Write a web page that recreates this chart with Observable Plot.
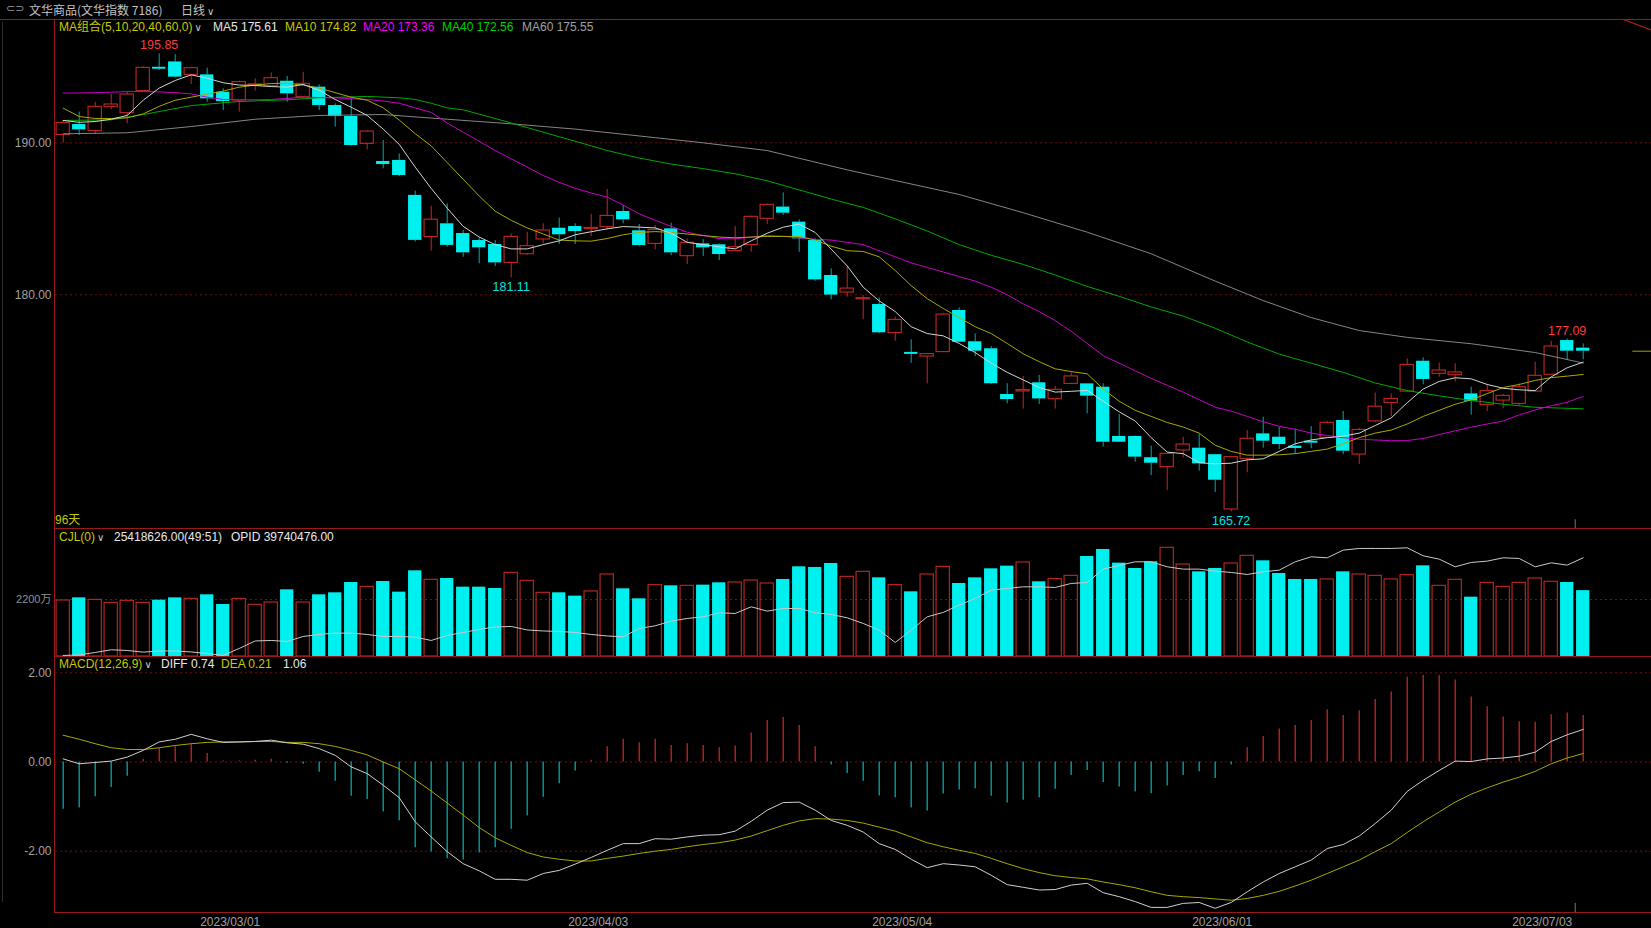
<!DOCTYPE html>
<html>
<head>
<meta charset="utf-8">
<script src="https://cdn.jsdelivr.net/npm/d3@7"></script>
<script src="https://cdn.jsdelivr.net/npm/@observablehq/plot@0.6"></script>
<style>
html,body{margin:0;padding:0;background:#000;overflow:hidden;}
#root{position:relative;width:1651px;height:928px;background:#000;font-family:"Liberation Sans","Noto Sans CJK SC",sans-serif;font-size:12px;color:#ddd;overflow:hidden;}
.a{position:absolute;white-space:nowrap;line-height:14px;}
.ln{position:absolute;background:#9a1a1a;z-index:5;}
.p{position:absolute;left:0;}
svg{display:block;}
</style>
</head>
<body>
<div id="root"></div>
<script>
// ---------------- DATA ----------------
const tickIdx    = [10, 33, 52, 72, 92];
const tickLabels = ["2023/03/01", "2023/04/03", "2023/05/04", "2023/06/01", "2023/07/03"];

const open = [190.52,191.20,190.77,192.34,191.95,193.40,194.97,195.32,194.47,194.47,
193.33,192.78,193.78,193.72,194.05,193.00,193.66,192.45,191.73,189.93,
188.77,188.84,186.54,183.80,184.67,184.03,183.57,183.31,182.10,182.67,
183.64,184.38,184.49,184.32,184.45,185.48,184.21,183.35,184.34,182.54,
183.35,183.29,182.87,183.27,185.00,185.77,184.78,183.57,181.27,180.15,
179.70,179.36,177.48,176.21,175.94,176.23,178.97,176.91,176.45,173.44,
173.64,174.21,173.13,174.14,174.14,173.92,170.68,170.68,169.28,168.66,
169.76,169.91,169.48,165.88,169.21,170.85,170.63,170.04,170.37,170.59,
171.73,169.49,171.67,172.89,173.63,175.63,174.80,174.71,173.48,172.76,
173.04,172.82,173.63,174.74,176.99,176.49];
const high = [191.47,192.02,192.67,193.18,193.33,195.00,195.85,195.80,194.97,194.91,
193.55,194.06,194.21,194.60,194.36,194.64,193.81,192.56,192.96,190.81,
190.15,189.27,186.82,185.83,185.98,184.23,183.75,183.57,184.01,184.12,
184.67,185.04,184.67,185.28,186.93,185.87,184.63,184.56,184.71,183.68,
183.62,183.35,184.49,185.17,185.98,186.71,184.93,183.68,181.71,181.86,
179.96,179.80,178.53,177.04,176.12,178.75,179.14,177.43,176.60,174.15,
174.63,174.69,173.97,174.87,174.16,174.14,172.13,170.70,170.04,169.56,
170.63,170.81,169.50,169.36,171.07,171.95,171.29,171.18,171.33,171.68,
172.32,171.22,173.54,173.48,175.78,175.85,175.52,175.46,173.92,174.10,
173.44,174.14,175.57,176.95,177.09,176.77];
const low = [189.98,190.48,190.55,192.17,191.25,193.35,194.76,194.27,193.84,192.67,
192.12,192.01,193.40,193.70,192.67,192.89,192.12,191.03,189.78,189.54,
188.29,187.78,183.47,182.87,183.14,182.47,182.04,181.86,181.11,182.58,
183.35,183.31,183.31,183.84,184.27,184.67,183.20,182.96,182.58,181.99,
182.52,182.26,182.84,182.80,184.63,185.22,182.80,180.89,179.67,179.84,
178.36,177.44,176.95,175.50,174.14,176.20,176.85,175.94,174.10,172.83,
172.48,172.78,172.48,174.10,172.17,169.98,170.28,168.99,168.11,167.13,
169.28,168.40,166.99,165.72,168.29,169.91,169.82,169.49,169.87,170.57,
169.49,168.83,171.58,171.99,173.59,174.08,174.58,174.25,172.08,172.32,
172.50,172.72,173.60,174.70,175.68,175.72];
const close = [191.31,190.85,192.37,192.52,193.18,194.93,194.84,194.32,194.91,192.89,
192.71,193.99,193.84,194.25,193.22,193.88,192.45,191.73,189.82,190.74,
188.57,187.85,183.58,184.94,183.25,182.76,183.09,182.10,183.81,183.20,
184.23,183.95,184.16,184.40,185.19,184.93,183.24,184.27,182.76,183.42,
183.09,182.65,183.13,185.13,185.92,185.37,183.68,180.98,179.98,180.41,
179.78,177.50,178.35,176.08,176.10,178.70,176.88,176.29,174.15,173.11,
173.73,173.15,173.75,174.63,173.33,170.30,170.30,169.32,168.92,169.54,
170.15,168.88,167.80,169.32,170.53,170.37,170.15,169.89,170.24,171.58,
169.71,171.11,172.64,173.15,175.39,174.43,175.02,174.89,173.00,173.66,
173.35,173.92,174.67,176.60,176.29,176.29];

const ma5 = [191.47,191.35,191.4,191.55,191.8,192.8,193.6,194.1,194.47,194.25,
193.95,193.8,193.77,193.7,193.66,193.84,193.45,192.85,192.34,191.8,
190.9,189.9,188.4,187.0,185.7,184.5,183.8,183.3,183.02,183.02,
183.3,183.55,183.95,184.15,184.34,184.49,184.45,184.4,184.05,183.45,
183.3,183.15,183.02,183.55,184.05,184.45,184.65,184.1,183.0,181.9,
180.5,179.6,178.9,177.9,177.45,177.3,176.8,176.2,175.5,174.9,
174.4,173.9,173.6,173.65,173.71,173.0,172.3,171.7,170.6,169.65,
169.55,168.95,168.88,168.92,169.14,169.21,169.7,170.2,170.45,170.6,
170.7,170.9,171.4,171.9,172.9,173.8,174.3,174.54,174.47,174.1,
173.85,173.75,173.7,174.6,175.2,175.57];
const ma10 = [192.28,191.73,191.6,191.6,191.64,191.9,192.4,192.8,193.0,193.2,
193.4,193.66,193.8,193.9,193.92,193.8,193.6,193.3,193.0,192.8,
192.3,191.5,190.6,189.8,188.7,187.6,186.5,185.5,184.9,184.4,
184.0,183.6,183.55,183.53,183.7,183.95,184.1,184.16,184.1,184.0,
183.9,183.8,183.75,183.8,183.84,183.84,183.84,183.6,183.2,182.9,
182.85,182.5,181.6,180.6,179.75,179.1,178.5,177.9,177.45,176.8,
176.12,175.6,175.13,174.95,174.8,173.8,173.0,172.4,172.0,171.6,
171.3,170.9,170.1,169.7,169.45,169.45,169.47,169.55,169.7,169.85,
170.2,170.6,170.9,171.1,171.5,172.0,172.4,172.8,173.09,173.5,
173.9,174.1,174.37,174.55,174.65,174.76];
const ma20 = [193.27,193.28,193.3,193.33,193.37,193.37,193.35,193.3,193.22,193.0,
192.85,192.83,192.83,192.85,192.92,193.0,192.98,192.95,192.9,192.85,
192.75,192.6,192.3,192.0,191.3,190.7,190.1,189.49,188.95,188.4,
187.85,187.4,187.0,186.7,186.43,185.9,185.33,184.9,184.5,184.12,
183.9,183.7,183.68,183.8,183.9,183.85,183.75,183.65,183.6,183.45,
183.3,182.9,182.5,182.1,181.8,181.5,181.2,180.9,180.5,180.0,
179.4,178.9,178.3,177.6,176.8,176.0,175.5,175.0,174.5,174.05,
173.6,173.1,172.6,172.35,172.0,171.65,171.35,171.15,170.9,170.75,
170.6,170.5,170.45,170.4,170.41,170.55,170.8,171.05,171.29,171.5,
171.7,172.1,172.43,172.7,172.93,173.31];
const ma40Idx = [0,3,5,8,11,14,16,19,21,22,23,24,25,27,29,31,33,34,36,38,40,42,44,46,48,50,52,54,56,58,60,62,64,66,68,70,72,74,76,78,80,82,84,86,88,90,92,95];
const ma40Val = [191.47,191.51,191.86,192.45,192.72,192.83,192.96,193.05,192.96,192.85,192.6,192.3,192.17,191.6,191.0,190.4,189.8,189.49,189.0,188.6,188.3,187.96,187.5,186.9,186.3,185.75,185.0,184.2,183.3,182.6,182.0,181.3,180.55,179.9,179.2,178.6,177.8,176.9,176.1,175.5,174.9,174.2,173.7,173.35,173.05,172.8,172.6,172.5];
const ma60Idx = [0,4,8,12,16,20,24,28,32,36,40,44,49,52,56,60,64,68,72,75,78,81,84,88,92,95];
const ma60Val = [190.59,190.66,191.07,191.55,191.8,191.86,191.55,191.25,190.9,190.45,190.0,189.49,188.22,187.52,186.6,185.4,184.12,182.7,180.9,179.62,178.5,177.65,177.2,176.78,176.2,175.51];

// volume (万) and open interest OPID (万)
const volume = [2162,2264,2187,2071,2149,2071,2175,2264,2226,2381,
2007,2226,1995,2084,2574,2084,2381,2458,2857,2689,
2895,2484,3307,2960,3011,2676,2676,2625,3230,2921,
2458,2458,2329,2510,3166,2612,2226,2754,2728,2728,
2754,2844,2857,2934,2818,2973,3461,3436,3590,3075,
3268,3036,2754,2496,3165,3461,2818,3036,3384,3487,
3629,2883,2986,3114,3860,4130,3603,3397,3654,4195,
3551,3268,3397,3590,3886,3693,3204,2973,2973,2973,
3268,3165,3114,2973,3140,3500,2728,2960,2290,2844,
2689,2844,3011,2883,2857,2542];
const opid = [3388,3391,3406,3422,3418,3408,3415,3415,3409,3400,
3388,3430,3475,3478,3472,3502,3514,3522,3522,3514,
3502,3502,3498,3478,3508,3526,3544,3559,3562,3541,
3535,3532,3526,3514,3505,3500,3550,3566,3594,3610,
3620,3644,3640,3680,3654,3670,3670,3644,3634,3614,
3580,3540,3466,3540,3620,3646,3690,3730,3780,3790,
3800,3800,3796,3820,3826,3906,3928,3950,3950,3920,
3906,3906,3894,3886,3874,3890,3900,3950,3980,3974,
4020,4030,4030,4030,4034,3986,3966,3920,3946,3954,
3974,3970,3920,3944,3930,3974];

const diff = [0.07,-0.04,-0.01,0.02,0.11,0.26,0.45,0.51,0.62,0.52,
0.44,0.45,0.46,0.49,0.43,0.40,0.30,0.15,-0.11,-0.26,
-0.52,-0.80,-1.34,-1.68,-2.01,-2.28,-2.44,-2.63,-2.63,-2.65,
-2.50,-2.43,-2.29,-2.14,-1.98,-1.83,-1.83,-1.72,-1.73,-1.68,
-1.64,-1.63,-1.55,-1.33,-1.08,-0.91,-0.90,-1.08,-1.31,-1.42,
-1.57,-1.83,-1.96,-2.18,-2.37,-2.28,-2.31,-2.35,-2.54,-2.75,
-2.81,-2.87,-2.86,-2.76,-2.72,-2.93,-3.02,-3.13,-3.26,-3.26,
-3.17,-3.15,-3.28,-3.15,-2.91,-2.69,-2.50,-2.35,-2.20,-1.94,
-1.85,-1.66,-1.38,-1.08,-0.66,-0.41,-0.19,0.02,0.01,0.07,
0.09,0.13,0.22,0.46,0.61,0.73];
const dea = [0.60,0.51,0.41,0.32,0.28,0.28,0.32,0.37,0.41,0.44,
0.45,0.45,0.46,0.46,0.44,0.44,0.41,0.35,0.26,0.16,
0.00,-0.15,-0.40,-0.65,-0.92,-1.19,-1.47,-1.70,-1.87,-2.03,
-2.13,-2.18,-2.22,-2.22,-2.16,-2.11,-2.05,-2.00,-1.96,-1.90,
-1.85,-1.81,-1.75,-1.66,-1.54,-1.42,-1.32,-1.27,-1.28,-1.31,
-1.37,-1.46,-1.55,-1.68,-1.81,-1.90,-1.98,-2.05,-2.16,-2.28,
-2.39,-2.48,-2.55,-2.59,-2.62,-2.69,-2.75,-2.82,-2.91,-2.99,
-3.02,-3.04,-3.07,-3.10,-3.06,-2.99,-2.90,-2.78,-2.65,-2.50,
-2.35,-2.20,-2.01,-1.83,-1.58,-1.34,-1.12,-0.90,-0.72,-0.58,
-0.45,-0.34,-0.21,-0.04,0.09,0.19];
const macdHist = [-1.06,-1.03,-0.78,-0.57,-0.32,0.06,0.30,0.34,0.40,0.19,
0.02,0.02,0.04,0.06,-0.03,-0.05,-0.23,-0.43,-0.77,-0.84,
-1.12,-1.32,-1.92,-2.02,-2.17,-2.20,-2.04,-1.92,-1.51,-1.21,
-0.79,-0.49,-0.20,0.04,0.34,0.51,0.43,0.51,0.37,0.41,
0.37,0.32,0.36,0.65,0.93,1.00,0.82,0.34,-0.07,-0.26,
-0.43,-0.76,-0.80,-1.03,-1.10,-0.72,-0.63,-0.60,-0.77,-0.92,
-0.86,-0.80,-0.61,-0.30,-0.19,-0.46,-0.56,-0.67,-0.71,-0.54,
-0.30,-0.22,-0.37,-0.07,0.32,0.57,0.74,0.82,0.93,1.17,
1.04,1.15,1.40,1.57,1.90,1.94,1.94,1.84,1.46,1.24,
1.01,0.90,0.89,1.06,1.10,1.04];

const priceTicks = [190, 180];
const volTicks = [2200];
const macdTicks = [2, 0, -2];
const extremes = [
  {i: 6,  v: 195.85, hi: true},
  {i: 28, v: 181.11, hi: false},
  {i: 73, v: 165.72, hi: false},
  {i: 94, v: 177.09, hi: true}
];

// ---------------- STYLE ----------------
const RED = "#c42626", CYAN = "#00f0f0", TEAL = "#00aaaa", GRID = "#741010";
const LBL = "#a0a0a0";
const C_MA5 = "#d4d4d4", C_MA10 = "#a8a800", C_MA20 = "#c800c8", C_MA40 = "#00a800", C_MA60 = "#858585";
const HALF = 0.415;
const FONT = '"Liberation Sans","Noto Sans CJK SC",sans-serif';
const W = 1651;
const X = {type: "linear", domain: [0, 95], range: [62.7, 62.7 + 16 * 95], axis: null};
const base = {width: W, marginLeft: 55, marginRight: 0, marginTop: 0,
  style: {background: "transparent", overflow: "visible", fontFamily: FONT, fontSize: "12px"}};

const root = document.getElementById("root");
function add(html) { root.insertAdjacentHTML("beforeend", html); }
function mount(svg, top) { const d = document.createElement("div"); d.className = "p"; d.style.top = top + "px"; d.appendChild(svg); root.appendChild(d); }

const candles = open.map((o, i) => ({i, o, h: high[i], l: low[i], c: close[i], up: close[i] >= o}));
const series = (arr) => arr.map((v, i) => ({i, v}));
const sparse = (ix, vs) => ix.map((i, k) => ({i, v: vs[k]}));

// ---------------- MAIN PANEL ----------------
const main = Plot.plot({
  ...base, height: 509, marginBottom: 0,
  x: X,
  y: {type: "linear", domain: [190, 180], range: [123.3, 275.3], axis: null},
  color: {type: "identity"},
  marks: [
    Plot.ruleY(priceTicks, {stroke: GRID, strokeDasharray: "2,3"}),
    Plot.text(priceTicks, {y: d => d, text: d => d.toFixed(2), frameAnchor: "left", textAnchor: "end", dx: -4, fill: LBL, fontSize: 12}),
    Plot.ruleX(candles, {x: "i", y1: d => Math.max(d.o, d.c), y2: "h", stroke: d => d.up ? RED : TEAL}),
    Plot.ruleX(candles, {x: "i", y1: "l", y2: d => Math.min(d.o, d.c), stroke: d => d.up ? RED : TEAL}),
    Plot.rect(candles.filter(d => d.up), {x1: d => d.i - HALF, x2: d => d.i + HALF, y1: "o", y2: "c", fill: "none", stroke: RED, strokeWidth: 1.1}),
    Plot.rect(candles.filter(d => !d.up), {x1: d => d.i - HALF, x2: d => d.i + HALF, y1: "o", y2: "c", fill: CYAN}),
    Plot.line(sparse(ma60Idx, ma60Val), {x: "i", y: "v", stroke: C_MA60, strokeWidth: 1}),
    Plot.line(sparse(ma40Idx, ma40Val), {x: "i", y: "v", stroke: C_MA40, strokeWidth: 1}),
    Plot.line(series(ma20), {x: "i", y: "v", stroke: C_MA20, strokeWidth: 1}),
    Plot.line(series(ma10), {x: "i", y: "v", stroke: C_MA10, strokeWidth: 1}),
    Plot.line(series(ma5), {x: "i", y: "v", stroke: C_MA5, strokeWidth: 1}),
    Plot.text(extremes.filter(d => d.hi), {x: "i", y: "v", text: d => d.v.toFixed(2), dy: -8.5, fill: "#ff3a3a", fontSize: 12.5}),
    Plot.text(extremes.filter(d => !d.hi), {x: "i", y: "v", text: d => d.v.toFixed(2), dy: 9.5, fill: "#00e4e4", fontSize: 12.5}),
    Plot.ruleY([close[close.length - 1]], {x1: 98.1, x2: 99.4, stroke: "#a0a000"}),
    Plot.ruleX([94.5], {y1: 165.2, y2: 164.6, stroke: "#777"})
  ]
});
mount(main, 19);

// ---------------- VOLUME PANEL ----------------
const vols = volume.map((v, i) => ({i, v, up: candles[i].up}));
const volPlot = Plot.plot({
  ...base, height: 128, marginBottom: 0,
  x: X,
  y: {type: "linear", domain: [0, 2200], range: [128, 71], axis: null},
  marks: [
    Plot.ruleY(volTicks, {stroke: GRID, strokeDasharray: "2,3"}),
    Plot.text(volTicks, {y: d => d, text: d => d + "万", frameAnchor: "left", textAnchor: "end", dx: -4, fill: "#909090", fontSize: 11}),
    Plot.rect(vols.filter(d => d.up), {x1: d => d.i - HALF, x2: d => d.i + HALF, y1: 0, y2: "v", fill: "none", stroke: RED, strokeWidth: 1.1}),
    Plot.rect(vols.filter(d => !d.up), {x1: d => d.i - HALF, x2: d => d.i + HALF, y1: 0, y2: "v", fill: CYAN})
  ]
});
mount(volPlot, 528);
const opPlot = Plot.plot({
  ...base, height: 128, marginBottom: 0,
  x: X,
  y: {type: "linear", domain: [3381.8, 4149.8], range: [128, 0], axis: null},
  marks: [Plot.line(series(opid), {x: "i", y: "v", stroke: "#c8c8c8", strokeWidth: 1})]
});
mount(opPlot, 528);

// ---------------- MACD PANEL ----------------
const hist = series(macdHist);
const ticks = tickIdx.map((i, k) => ({i, label: tickLabels[k]}));
const macdPlot = Plot.plot({
  ...base, height: 272, marginBottom: 16,
  x: X,
  y: {type: "linear", domain: [2, -2], range: [16.3, 194.7], axis: null},
  color: {type: "identity"},
  marks: [
    Plot.ruleY(macdTicks, {stroke: GRID, strokeDasharray: "2,3"}),
    Plot.text(macdTicks, {y: d => d, text: d => d.toFixed(2), frameAnchor: "left", textAnchor: "end", dx: -4, fill: LBL, fontSize: 12}),
    Plot.ruleX(hist, {x: "i", y1: 0, y2: "v", stroke: d => d.v >= 0 ? RED : TEAL, strokeWidth: 1.3}),
    Plot.line(series(dea), {x: "i", y: "v", stroke: C_MA10, strokeWidth: 1}),
    Plot.line(series(diff), {x: "i", y: "v", stroke: "#cfcfcf", strokeWidth: 1}),
    Plot.text(ticks, {x: "i", text: "label", frameAnchor: "bottom", dy: 13, dx: 7, fill: LBL, fontSize: 12}),
    Plot.ruleX([94.5], {y1: -3.17, y2: -3.38, stroke: "#777"})
  ]
});
mount(macdPlot, 656);

// ---------------- FRAME, HEADER, LEGENDS ----------------
add('<div class="ln" style="left:0;top:19px;width:1651px;height:1px"></div>');
add('<div class="ln" style="left:54px;top:19px;width:1px;height:894px"></div>');
add('<div class="ln" style="left:54px;top:528px;width:1597px;height:1px"></div>');
add('<div class="ln" style="left:54px;top:656px;width:1597px;height:1px"></div>');
add('<div class="ln" style="left:54px;top:912px;width:1597px;height:1px"></div>');
add('<div class="a" style="left:2px;top:22px;width:1px;height:880px;background:#2c2c2c"></div>');
add('<svg class="a" style="left:1620px;top:19px;z-index:6" width="31" height="12"><line x1="2" y1="0" x2="31" y2="11" stroke="#b01c1c" stroke-width="1.2"/></svg>');

add('<div class="a" style="left:6px;top:2px;color:#9a9a9a;font-size:11px;font-family:\'DejaVu Sans\'">&#x2282;&#x2283;</div>');
add('<div class="a" style="left:29px;top:3px;color:#c4c4c4;font-family:\'Noto Sans CJK SC\';font-size:12px">文华商品(文华指数 7186)</div>');
add('<div class="a" style="left:181px;top:3px;color:#c4c4c4;font-family:\'Noto Sans CJK SC\';font-size:12px">日线<span style="font-family:\'DejaVu Sans\';font-size:10px;margin-left:2px">&#x2228;</span></div>');

const legend = (top, items) => items.forEach(([x, txt, col]) =>
  add(`<div class="a" style="left:${x}px;top:${top}px;color:${col};font-size:12px">${txt}</div>`));
const chev = '<span style="font-family:\'DejaVu Sans\';font-size:10px;color:#c8c8c8;margin-left:2px">&#x2228;</span>';
legend(20, [
  [59, "MA组合(5,10,20,40,60,0)" + chev, "#c8c800"],
  [213, "MA5 175.61", "#e8e8e8"],
  [285, "MA10 174.82", "#c8c800"],
  [363, "MA20 173.36", "#f000f0"],
  [442, "MA40 172.56", "#00d000"],
  [522, "MA60 175.55", "#a0a0a0"]
]);
legend(513, [[55, "96天", "#c8c800"]]);
legend(530, [
  [59, "CJL(0)" + chev, "#c8c800"],
  [114, "25418626.00(49:51)", "#e8e8e8"],
  [231, "OPID 39740476.00", "#e8e8e8"]
]);
legend(657, [
  [59, "MACD(12,26,9)" + chev, "#c8c800"],
  [161, "DIFF 0.74", "#e8e8e8"],
  [221, "DEA 0.21", "#c8c800"],
  [283, "1.06", "#e8e8e8"]
]);
</script>
</body>
</html>
